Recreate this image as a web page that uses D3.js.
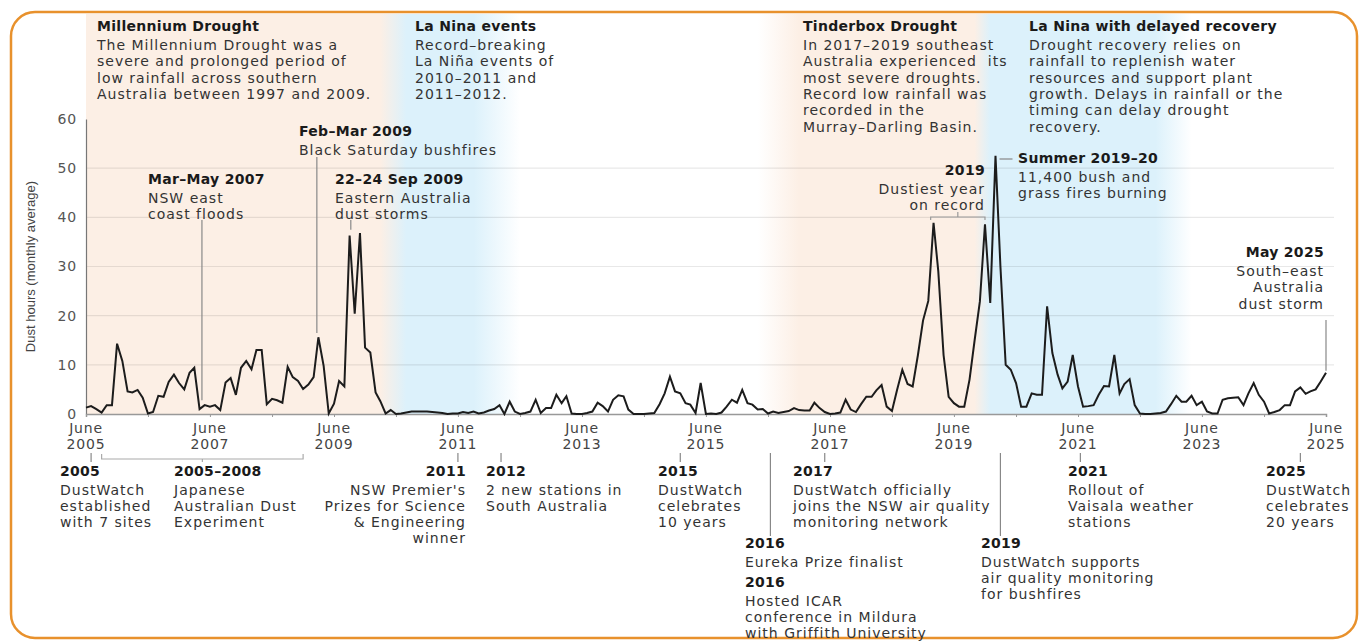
<!DOCTYPE html>
<html>
<head>
<meta charset="utf-8">
<script src="https://cdn.jsdelivr.net/npm/d3@7"></script>
<style>
  body { margin: 0; background: #fff; }
  svg text { font-family: "DejaVu Sans", sans-serif; }
</style>
</head>
<body>
<div id="chart"></div>
<script>
// monthly dust hours, June 2005 .. June 2025
var startMonth = "2005-06-01";
var dustHours = [
  1.3,1.6,1.0,0.3,1.8,1.8,14.3,10.8,4.6,4.4,
  4.9,3.3,0.1,0.4,3.7,3.5,6.5,8,6.3,5,
  8.4,9.4,1,1.8,1.5,1.8,0.8,6.4,7.3,3.9,
  9.4,10.8,9.1,13,13,2,3.1,2.8,2.3,9.6,
  7.5,6.7,5.1,6,7.5,15.6,9.8,0.1,2.1,6.7,
  5.6,36.3,20.4,36.8,13.5,12.5,4.4,2.6,0.1,0.8,
  0,0.1,0.3,0.5,0.5,0.5,0.5,0.4,0.3,0.2,
  0,0.1,0.1,0.4,0.2,0.5,0.1,0.3,0.7,1.0,
  1.8,0,2.5,0.5,0,0.2,0.5,2.9,0.2,1.2,
  1.2,3.9,2.2,3.6,0.1,0,0,0.2,0.5,2.3,
  1.6,0.5,2.9,3.8,3.6,0.9,0,0,0,0.1,
  0.2,2.0,4.2,7.6,4.6,4.2,2.2,1.9,0.2,6.3,
  0,0.1,0,0.3,1.5,2.9,2.3,4.9,2.2,1.9,
  0.9,1.0,0.1,0.5,0.2,0.4,0.6,1.2,0.8,0.7,
  0.7,2.3,1.2,0.4,0,0.1,0.3,2.9,0.9,0.4,
  2.0,3.5,3.5,4.8,5.9,1.5,0.6,4.9,9.0,6.1,
  5.6,12,19,23,38.9,29,12,3.5,2.2,1.5,
  1.5,7,15,22.9,38.6,22.6,52.5,30,10,9,
  6.3,1.5,1.5,4.2,3.9,3.9,21.9,12.4,8,5.2,
  6.6,12,5.6,1.5,1.6,1.8,3.9,5.7,5.6,12,
  4.2,6.1,7.1,1.8,0.1,0,0,0.1,0.2,0.5,
  2.0,3.7,2.5,2.5,3.7,1.8,2.5,0.5,0.1,0.1,
  2.9,3.2,3.3,3.4,1.8,4.2,6.3,3.9,2.5,0.1,
  0.4,0.8,1.8,1.8,4.6,5.4,4.1,4.6,5.0,6.6,
  8.4
];
var yTicks = [0, 10, 20, 30, 40, 50, 60];
var labelYears = [2005, 2007, 2009, 2011, 2013, 2015, 2017, 2019, 2021, 2023, 2025];

// drought / la nina shading, as colour stops on dates
var bandDates = ["2005-06-01","2010-03-01","2010-08-01","2011-09-01","2012-06-01",
                 "2016-04-01","2016-12-01","2019-10-01","2020-01-01","2022-09-01","2023-04-01"];
var bandColours = ["#fcefe5","#fcefe5","#dcf1fb","#dcf1fb","#ffffff",
                   "#ffffff","#fcefe5","#fcefe5","#dcf1fb","#dcf1fb","#ffffff"];

// DustWatch milestone ticks under the axis
var milestoneDates = ["2005-07-01","2011-06-01","2012-02-10","2015-01-01","2017-05-01","2021-06-15","2025-01-01"];

var width = 1360, height = 641;
var mLeft = 86, mRight = 1326, mTop = 119, mBottom = 414;

var parse = d3.timeParse("%Y-%m-%d");
var t0 = parse(startMonth);
var data = dustHours.map(function(v, i) {
  return { date: d3.timeMonth.offset(t0, i), value: v };
});

var x = d3.scaleTime()
  .domain([t0, d3.timeMonth.offset(t0, dustHours.length - 1)])
  .range([mLeft, mRight]);
var y = d3.scaleLinear().domain([0, 60]).range([mBottom, mTop]);

var svg = d3.select("#chart").append("svg")
  .attr("width", width).attr("height", height);

// frame
svg.append("rect")
  .attr("x", 11).attr("y", 12).attr("width", 1346).attr("height", 626)
  .attr("rx", 24)
  .attr("fill", "none").attr("stroke", "#e8912c").attr("stroke-width", 2.5);

// shading
var gEnd = 1200;
var grad = svg.append("defs").append("linearGradient")
  .attr("id", "bands").attr("gradientUnits", "userSpaceOnUse")
  .attr("x1", mLeft).attr("x2", gEnd).attr("y1", 0).attr("y2", 0);
bandDates.forEach(function(d, i) {
  grad.append("stop")
    .attr("offset", (x(parse(d)) - mLeft) / (gEnd - mLeft))
    .attr("stop-color", bandColours[i]);
});
svg.append("rect")
  .attr("x", mLeft).attr("y", 14).attr("width", gEnd - mLeft).attr("height", mBottom - 14)
  .attr("fill", "url(#bands)");

// gridlines
svg.append("g").selectAll("line")
  .data(yTicks.filter(function(d) { return d > 0 && d < 60; }))
  .enter().append("line")
  .attr("x1", mLeft).attr("x2", 1334)
  .attr("y1", function(d) { return y(d); })
  .attr("y2", function(d) { return y(d); })
  .attr("stroke", "rgba(0,0,0,0.09)").attr("stroke-width", 1.2);

// y axis
var yAxis = svg.append("g")
  .attr("transform", "translate(" + mLeft + ",0)")
  .call(d3.axisLeft(y).tickValues(yTicks).tickSize(0).tickPadding(9));
yAxis.select(".domain").attr("stroke", "#777").attr("stroke-width", 1.2);
yAxis.selectAll("text").attr("font-size", "14px").attr("fill", "#555")
  .attr("font-family", "DejaVu Sans, sans-serif").attr("letter-spacing", "0.8px");

svg.append("text")
  .attr("transform", "translate(35," + ((mTop + mBottom) / 2) + ") rotate(-90)")
  .attr("text-anchor", "middle")
  .attr("font-size", "13px").attr("fill", "#444")
  .style("font-family", "'Liberation Sans Narrow', 'Liberation Sans', sans-serif")
  .text("Dust hours (monthly average)");

// x axis, tick each June
var junes = d3.range(2005, 2026).map(function(yr) { return new Date(yr, 5, 1); });
var xAxis = svg.append("g")
  .attr("transform", "translate(0," + mBottom + ")")
  .call(d3.axisBottom(x).tickValues(junes).tickSize(3).tickFormat(""));
xAxis.select(".domain").attr("stroke", "#999").attr("stroke-width", 1.5);
xAxis.selectAll(".tick line").attr("stroke", "#999");

var xl = svg.append("g").selectAll("g")
  .data(labelYears).enter().append("g")
  .attr("transform", function(d) { return "translate(" + x(new Date(d, 5, 1)) + ",0)"; });
xl.append("text").attr("y", 433).attr("text-anchor", "middle")
  .attr("font-size", "14px").attr("fill", "#444").attr("letter-spacing", "0.8px").text("June");
xl.append("text").attr("y", 449).attr("text-anchor", "middle")
  .attr("font-size", "14px").attr("fill", "#444").attr("letter-spacing", "0.8px")
  .text(function(d) { return d; });

// the line
svg.append("path")
  .datum(data)
  .attr("fill", "none").attr("stroke", "#1c1c1c").attr("stroke-width", 2)
  .attr("stroke-linejoin", "miter")
  .attr("d", d3.line()
    .x(function(d) { return x(d.date); })
    .y(function(d) { return y(d.value); }));

// text helper
function block(px, py, title, lines, anchor, gap) {
  var g = svg.append("g");
  var lh = gap || 16.3;
  if (title) {
    g.append("text").attr("x", px).attr("y", py).attr("text-anchor", anchor || "start")
      .attr("font-size", "14px").attr("font-weight", "bold").attr("fill", "#1a1a1a")
      .attr("letter-spacing", "0.3px")
      .text(title);
  }
  lines.forEach(function(l, i) {
    g.append("text").attr("x", px).attr("y", py + (title ? 1 : 0) * 19 + i * lh)
      .attr("text-anchor", anchor || "start")
      .attr("font-size", "14px").attr("fill", "#333").attr("letter-spacing", "1px")
      .style("white-space", "pre").text(l);
  });
}
function leader(x1, y1, x2, y2) {
  svg.append("line").attr("x1", x1).attr("y1", y1).attr("x2", x2).attr("y2", y2)
    .attr("stroke", "#888").attr("stroke-width", 1.2);
}

// period notes along the top
block(97, 31, "Millennium Drought", ["The Millennium Drought was a", "severe and prolonged period of",
  "low rainfall across southern", "Australia between 1997 and 2009."]);
block(415, 31, "La Nina events", ["Record\u2013breaking", "La Ni\u00f1a events of", "2010\u20132011 and", "2011\u20132012."]);
block(803, 31, "Tinderbox Drought", ["In 2017\u20132019 southeast", "Australia experienced  its",
  "most severe droughts.", "Record low rainfall was", "recorded in the", "Murray\u2013Darling Basin."]);
block(1029, 31, "La Nina with delayed recovery", ["Drought recovery relies on", "rainfall to replenish water",
  "resources and support plant", "growth. Delays in rainfall or the", "timing can delay drought", "recovery."]);

// event notes on the chart
var xa = x(parse("2007-04-15"));
leader(xa, 220, xa, y(2.8));
block(148, 184, "Mar\u2013May 2007", ["NSW east", "coast floods"]);
var xb = x(parse("2009-02-20"));
leader(xb, 157, xb, y(16.5));
block(299, 136, "Feb\u2013Mar 2009", ["Black Saturday bushfires"]);
var xc = x(parse("2009-09-08"));
leader(xc, 220, xc, y(37.5));
block(335, 184, "22\u201324 Sep 2009", ["Eastern Australia", "dust storms"]);

block(985, 175, "2019", ["Dustiest year", "on record"], "end");
var b1 = x(parse("2019-01-15")), b2 = x(parse("2019-12-01"));
svg.append("path")
  .attr("d", "M" + b1 + "," + 220 + "V217H" + b2 + "V220M" + ((b1 + b2) / 2) + ",217V212")
  .attr("fill", "none").attr("stroke", "#999").attr("stroke-width", 1.2);

var xs = x(parse("2020-02-01"));
leader(xs + 4, 159, xs + 17, 159);
block(1018, 163, "Summer 2019\u201320", ["11,400 bush and", "grass fires burning"]);

var xm = x(parse("2025-06-01"));
leader(xm, 320, xm, y(8.8));
block(1324, 257, "May 2025", ["South\u2013east", "Australia", "dust storm"], "end");

// DustWatch milestones below the axis
milestoneDates.forEach(function(d) { var xx = x(parse(d)); leader(xx, 453, xx, 462); });
var j1 = x(parse("2005-09-01")), j2 = x(parse("2008-12-01"));
svg.append("path")
  .attr("d", "M" + j1 + ",454V459H" + j2 + "V454M" + ((j1 + j2) / 2) + ",459V462")
  .attr("fill", "none").attr("stroke", "#aaa").attr("stroke-width", 1.2);

block(60, 476, "2005", ["DustWatch", "established", "with 7 sites"], "start", 16);
block(174, 476, "2005\u20132008", ["Japanese", "Australian Dust", "Experiment"], "start", 16);
block(466, 476, "2011", ["NSW Premier's", "Prizes for Science", "& Engineering", "winner"], "end", 16);
block(486, 476, "2012", ["2 new stations in", "South Australia"], "start", 16);
block(658, 476, "2015", ["DustWatch", "celebrates", "10 years"], "start", 16);
block(793, 476, "2017", ["DustWatch officially", "joins the NSW air quality", "monitoring network"], "start", 16);
block(1068, 476, "2021", ["Rollout of", "Vaisala weather", "stations"], "start", 16);
block(1266, 476, "2025", ["DustWatch", "celebrates", "20 years"], "start", 16);

var x16 = x(parse("2016-06-15"));
leader(x16, 453, x16, 536);
block(745, 548, "2016", ["Eureka Prize finalist"], "start", 16);
block(745, 587, "2016", ["Hosted ICAR", "conference in Mildura", "with Griffith University"], "start", 16);
var x19 = x(parse("2020-03-01"));
leader(x19, 453, x19, 536);
block(981, 548, "2019", ["DustWatch supports", "air quality monitoring", "for bushfires"], "start", 16);
</script>
</body>
</html>
